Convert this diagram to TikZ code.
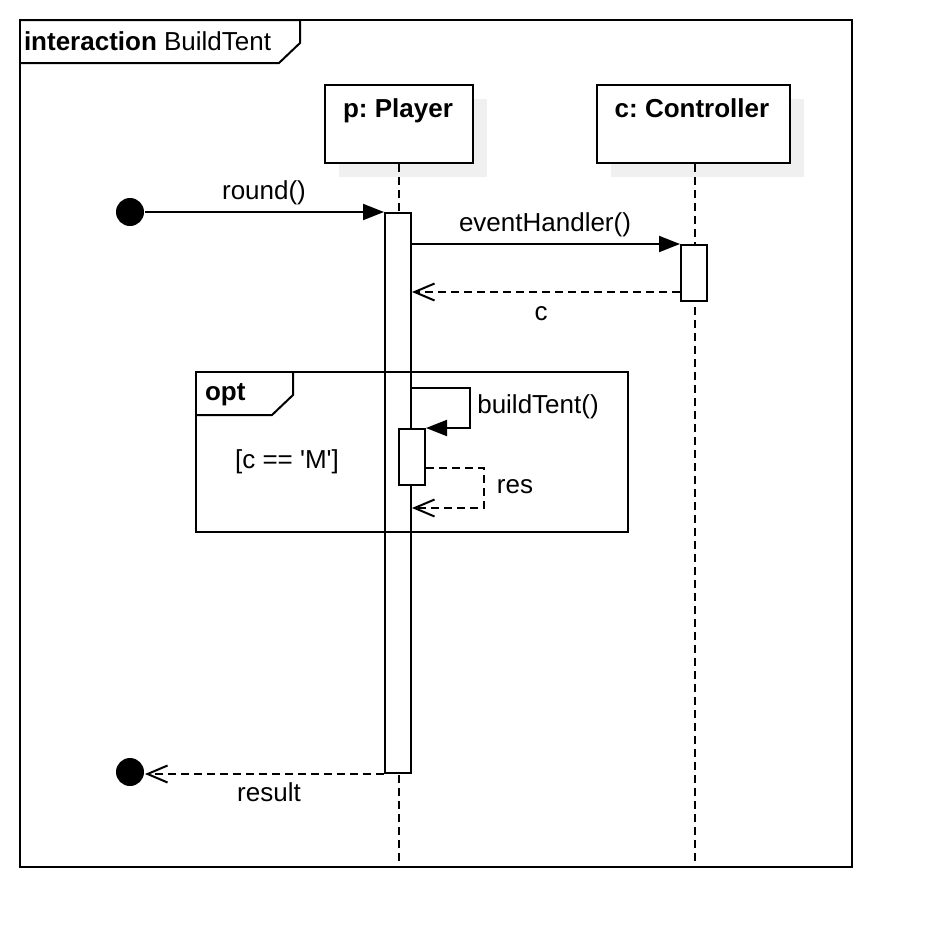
\documentclass[tikz,border=0pt]{standalone}
\usepackage{fontspec}
\setmainfont{Liberation Sans}
\newfontfamily\plainsans{Liberation Sans}
\usetikzlibrary{arrows.meta}
\frenchspacing
\begin{document}
\begin{tikzpicture}[x=1pt,y=-1pt,line width=2pt,
  txt/.style={font=\fontsize{26}{30}\selectfont,inner sep=0pt},
  btxt/.style={font=\fontsize{26}{30}\selectfont\bfseries,inner sep=0pt},
  headbox/.style={draw,fill=white,minimum height=78pt,inner sep=0pt},
  shadowbox/.style={fill=black!6,draw=none,minimum height=78pt,inner sep=0pt},
  actbox/.style={draw,fill=white,minimum width=26pt,inner sep=0pt},
  life/.style={dash pattern=on 8pt off 5pt,line width=1.6pt},
  dot/.style={circle,fill=black,minimum size=28pt,inner sep=0pt},
  sync/.style={-{Triangle[length=21pt,width=16pt]}},
  reply/.style={dash pattern=on 8pt off 5pt,-{Straight Barb[length=20pt,width=17pt,line width=2pt]}}]
\useasboundingbox (0,0) rectangle (932,948);
% outer frame
\draw (20,20) rectangle (852,867);
\draw (20,20) -- (300,20) -- (300,43) -- (279,63) -- (20,63);
\node[txt,anchor=west] (title) at (23,41) {\textbf{interaction} BuildTent};
% lifeline heads
\node[shadowbox,minimum width=148pt,anchor=north west] (pshadow) at (338,98) {};
\node[shadowbox,minimum width=193pt,anchor=north west] (cshadow) at (610,98) {};
\node[headbox,minimum width=148pt,anchor=north west] (player) at (324,84) {};
\node[headbox,minimum width=193pt,anchor=north west] (ctrl) at (596,84) {};
\node[btxt] (ptitle) at (398,111) {p: Player};
\node[btxt] (ctitle) at (692,108) {c: Controller};
\coordinate (pend) at (399,867);
\coordinate (cend) at (695,867);
\draw[life] (player.south -| pend) -- (pend);
\draw[life] (ctrl.south -| cend) -- (cend);
% activations
\node[actbox,minimum height=560pt,anchor=north west] (pact) at (384,212) {};
\node[actbox,minimum height=56pt,anchor=north west] (cact) at (680,244) {};
% opt frame
\draw (196,372) rectangle (628,532);
\draw (196,415) -- (272,415) -- (293,395) -- (293,372);
\node[btxt,anchor=west] (optlbl) at (204,395) {opt};
\node[txt,font=\fontsize{26}{30}\selectfont\plainsans] (guard) at (287,462) {[c == 'M']};
\node[actbox,minimum height=56pt,anchor=north west] (nact) at (398,428) {};
% start / end
\node[dot] (start) at (130,212) {};
\node[dot] (stop) at (130,772) {};
% messages
\draw[sync] (start.east) -- (start.east -| pact.west);
\node[txt] (l1) at (264,193) {round()};
\draw[sync] (pact.east |- cact.north) -- (cact.north west);
\node[txt] (l2) at (545,225) {eventHandler()};
\draw[reply] (cact.west |- 0,292) -- (pact.east |- 0,292);
\node[txt] (l3) at (541,314) {c};
\draw[sync] (pact.east |- 0,388) -- (470,388) -- (470,428) -- (nact.north east);
\node[txt] (l4) at (538,407) {buildTent()};
\draw[reply] (nact.east |- 0,468) -- (484,468) -- (484,508) -- (pact.east |- 0,508);
\node[txt] (l5) at (515,487) {res};
\draw[reply] (pact.south west) -- (pact.south west -| stop.east);
\node[txt] (l6) at (269,792) {result};
\end{tikzpicture}
\end{document}
